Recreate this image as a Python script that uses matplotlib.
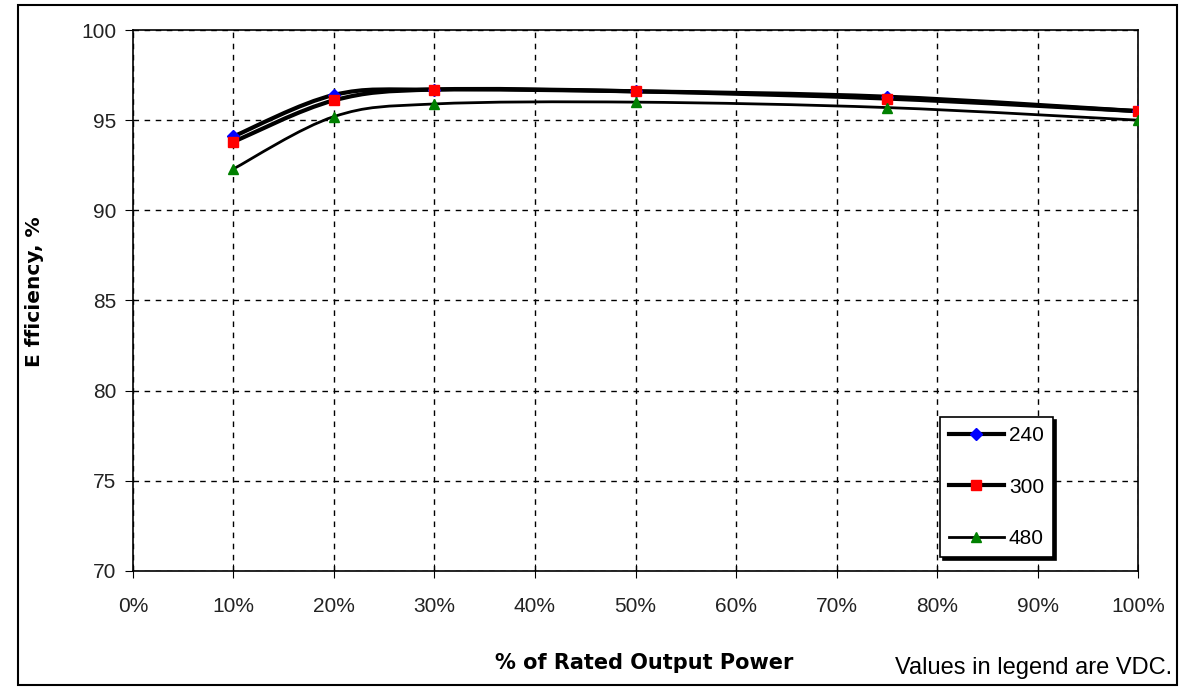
import matplotlib.pyplot as plt
from matplotlib.path import Path
from matplotlib.patches import PathPatch, Rectangle
from matplotlib.lines import Line2D
from matplotlib.ticker import FuncFormatter

plt.rcParams['font.family'] = ['Liberation Sans', 'DejaVu Sans']

# % of rated output power
load = [10, 20, 30, 50, 75, 100]
# efficiency (%) per input voltage
eff_240 = [94.1, 96.4, 96.7, 96.6, 96.3, 95.5]
eff_300 = [93.8, 96.1, 96.7, 96.6, 96.2, 95.5]
eff_480 = [92.3, 95.2, 95.9, 96.0, 95.7, 95.0]
labels = ['240', '300', '480']


# Excel-like smoothed line: cubic bezier segments through the data points
def smooth_path(xs, ys, tension=1 / 6):
    verts = [(xs[0], ys[0])]
    codes = [Path.MOVETO]
    n = len(xs)
    for i in range(n - 1):
        x0, y0 = (xs[i - 1], ys[i - 1]) if i > 0 else (xs[i], ys[i])
        x1, y1 = xs[i], ys[i]
        x2, y2 = xs[i + 1], ys[i + 1]
        x3, y3 = (xs[i + 2], ys[i + 2]) if i + 2 < n else (x2, y2)
        c1 = (x1 + (x2 - x0) * tension, y1 + (y2 - y0) * tension)
        c2 = (x2 - (x3 - x1) * tension, y2 - (y3 - y1) * tension)
        verts += [c1, c2, (x2, y2)]
        codes += [Path.CURVE4] * 3
    return Path(verts, codes)


fig = plt.figure(figsize=(11.82, 6.9), dpi=100)
ax = fig.add_axes([0.1125, 0.1725, 0.8503, 0.784])

series = [
    (eff_240, 'D', 'blue', 3.0, 6),
    (eff_300, 's', 'red', 3.0, 7),
    (eff_480, '^', 'green', 2.0, 7),
]
handles = []
for (ys, mk, col, lw, ms), lab in zip(series, labels):
    ax.add_patch(PathPatch(smooth_path(load, ys), facecolor='none',
                           edgecolor='black', lw=lw, zorder=3))
    ax.plot(load, ys, linestyle='none', marker=mk, color=col, ms=ms, zorder=4)
    handles.append(Line2D([], [], color='black', lw=lw, marker=mk,
                          markerfacecolor=col, markeredgecolor=col, ms=ms))

ax.set_xlim(0, 100)
ax.set_ylim(70, 100)
ax.set_xticks(range(0, 101, 10))
ax.set_yticks(range(70, 101, 5))
ax.xaxis.set_major_formatter(FuncFormatter(lambda v, p: f'{int(v)}%'))
ax.grid(True, color='black', linestyle=(0, (4, 4)), lw=1)
ax.set_axisbelow(True)
for s in ax.spines.values():
    s.set_linewidth(1.2)
    s.set_zorder(2.5)
ax.tick_params(axis='x', direction='inout', length=10, labelsize=15,
               labelcolor='#222222', pad=14)
ax.tick_params(axis='y', direction='out', length=6, labelsize=15,
               labelcolor='#222222', pad=6)

ax.set_xlabel('% of Rated Output Power', fontsize=15, fontweight='bold',
              family='DejaVu Sans')
ax.xaxis.set_label_coords(0.509, -0.151)
ax.set_ylabel('E fficiency, %', fontsize=14.5, fontweight='bold',
              family='DejaVu Sans')
ax.yaxis.set_label_coords(-0.0886, 0.516)

leg = ax.legend(handles, labels, loc='upper left',
                bbox_to_anchor=(940 / 1182, 1 - 417 / 690),
                bbox_transform=fig.transFigure, fancybox=False,
                shadow={'color': 'black', 'alpha': 1}, framealpha=1,
                edgecolor='black', fontsize=15, labelspacing=1.55,
                handlelength=2.6, handletextpad=0.25, borderpad=0.45,
                borderaxespad=0)
leg.get_frame().set_linewidth(1.2)

fig.text(1172 / 1182, 1 - 668 / 690, 'Values in legend are VDC.',
         ha='right', va='center', fontsize=17)

fig.patches.append(Rectangle((18 / 1182, 5 / 690), 1159 / 1182, 680 / 690,
                             transform=fig.transFigure, fill=False,
                             edgecolor='black', lw=1.5))

fig.savefig('out.png', dpi=100)
